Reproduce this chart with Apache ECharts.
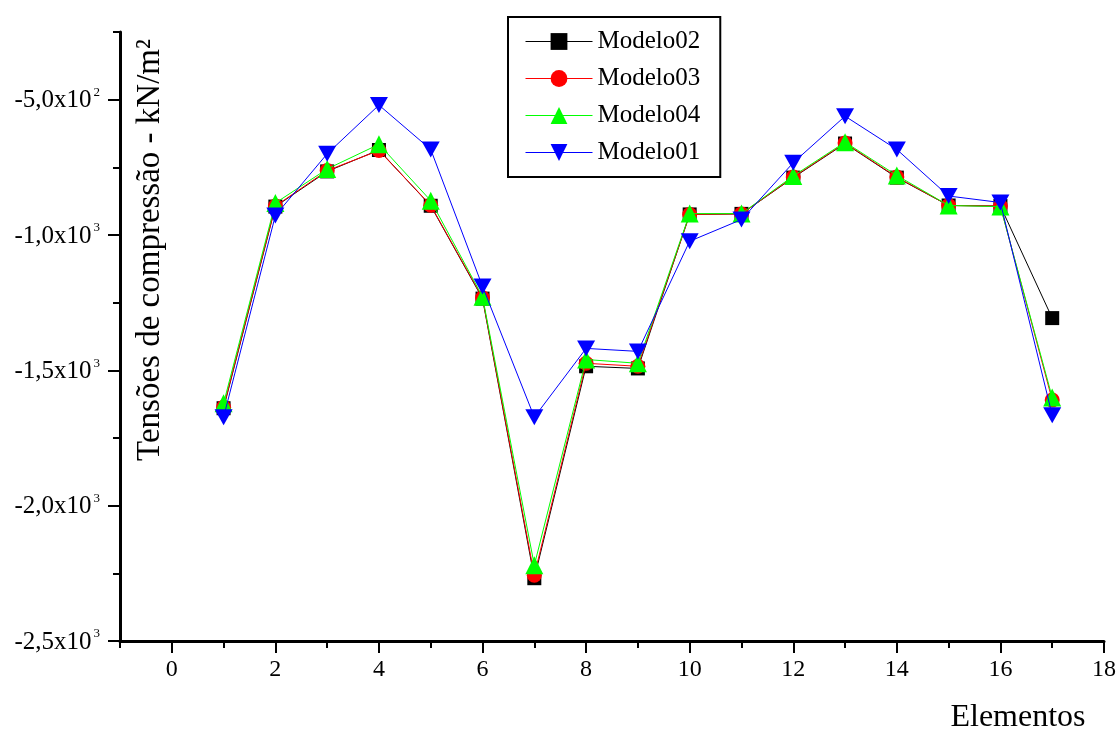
<!DOCTYPE html>
<html>
<head>
<meta charset="utf-8">
<script src="https://cdn.jsdelivr.net/npm/echarts@6/dist/echarts.min.js"></script>
<style>
html,body{margin:0;padding:0;background:#fff;}
#c{width:1119px;height:738px;}
</style>
</head>
<body>
<div id="c"></div>
<script>
// ---- data ----
const elements = [1,2,3,4,5,6,7,8,9,10,11,12,13,14,15,16,17];
const modelo02 = [-1640,-895,-765,-686,-892,-1235,-2268,-1485,-1493,-924,-922,-788,-662,-788,-891,-893,-1307];
const modelo03 = [-1636,-893,-762,-688,-890,-1232,-2257,-1474,-1485,-924,-922,-786,-660,-786,-891,-893,-1610];
const modelo04 = [-1622,-882,-756,-665,-873,-1228,-2220,-1460,-1474,-921,-921,-782,-657,-780,-891,-895,-1600];
const modelo01 = [-1673,-928,-700,-520,-684,-1190,-1673,-1419,-1430,-1023,-943,-733,-561,-684,-856,-880,-1666];
const seriesNames = ['Modelo02','Modelo03','Modelo04','Modelo01'];
const xTickValues = [0,2,4,6,8,10,12,14,16,18];
const yTickValues = [-2500,-2000,-1500,-1000,-500];
const yTickMantissa = ['-2,5x10','-2,0x10','-1,5x10','-1,0x10','-5,0x10'];
const yTickExp = ['3','3','3','3','2'];
const yTitle = 'Tensões de compressão - kN/m²';
const xTitle = 'Elementos';

// ---- chart ----
const FONT = '"Liberation Serif", "Times New Roman", serif';
const chart = echarts.init(document.getElementById('c'), null, {renderer:'canvas'});
function pairs(vals){ return elements.map((e,i)=>[e, vals[i]]); }
const styles = [
  {color:'#000000', symbol:'rect', size:14},
  {color:'#ff0000', symbol:'circle', size:15},
  {color:'#00ff00', symbol:'triangle', size:18},
  {color:'#0000ff', symbol:'path://M0,0 L10,0 L5,9 Z', size:[18,16]}
];
const valuesList = [modelo02, modelo03, modelo04, modelo01];
const series = seriesNames.map((n,i)=>({
  name:n, type:'line', xAxisIndex:0, yAxisIndex:0,
  data:pairs(valuesList[i]),
  symbol:styles[i].symbol, symbolSize:styles[i].size,
  showAllSymbol:true,
  itemStyle:{color:styles[i].color},
  lineStyle:{color:styles[i].color, width:1},
  animation:false, z: 2+i
}));

const option = {
  animation:false,
  backgroundColor:'#ffffff',
  grid:{left:120, right:15, top:32, bottom:97},
  legend:{
    orient:'vertical', left:508, top:17,
    data:seriesNames,
    borderColor:'#000', borderWidth:2, backgroundColor:'#fff',
    padding:[12,20,12,17], itemGap:12,
    itemWidth:67, itemHeight:21,
    lineStyle:{width:1},
    textStyle:{fontFamily:FONT, fontSize:25, color:'#000'}
  },
  xAxis:[
    {type:'value', min:-1, max:18, interval:1, position:'bottom',
     axisLine:{show:true, onZero:false, lineStyle:{color:'#000', width:3}},
     axisTick:{show:true, inside:false, length:7, lineStyle:{color:'#000', width:2}},
     axisLabel:{show:false}, splitLine:{show:false}},
    {type:'value', min:-1, max:18, position:'bottom',
     axisLine:{show:false, onZero:false},
     axisTick:{show:true, length:12, customValues:xTickValues, lineStyle:{color:'#000', width:2}},
     axisLabel:{show:true, customValues:xTickValues, margin:17, fontFamily:FONT, fontSize:24, color:'#000'},
     splitLine:{show:false}}
  ],
  yAxis:[
    {type:'value', min:-2500, max:-250, interval:250, position:'left',
     axisLine:{show:true, onZero:false, lineStyle:{color:'#000', width:3}},
     axisTick:{show:true, length:7, lineStyle:{color:'#000', width:2}},
     axisLabel:{show:false}, splitLine:{show:false}},
    {type:'value', min:-2500, max:-250, position:'left',
     axisLine:{show:false, onZero:false},
     axisTick:{show:true, length:12, customValues:yTickValues, lineStyle:{color:'#000', width:2}},
     axisLabel:{show:true, customValues:yTickValues, margin:20, color:'#000',
       formatter:function(v){
         const i = yTickValues.indexOf(v);
         if(i<0) return '';
         return '{m|'+yTickMantissa[i]+'}{e|'+yTickExp[i]+'}';
       },
       rich:{
         m:{fontFamily:FONT, fontSize:25, color:'#000', verticalAlign:'bottom', lineHeight:27},
         e:{fontFamily:FONT, fontSize:13, color:'#000', verticalAlign:'top', lineHeight:27, padding:[0,0,14,2]}
       }},
     splitLine:{show:false}}
  ],
  graphic:[
    {type:'text', x:150, y:250, rotation:Math.PI/2,
     style:{text:yTitle, font:'33px '+FONT, fill:'#000', textAlign:'center', textVerticalAlign:'middle'}},
    {type:'text', x:1018, y:718,
     style:{text:xTitle, font:'32px '+FONT, fill:'#000', textAlign:'center', textVerticalAlign:'middle'}}
  ],
  series:series
};
chart.setOption(option);
</script>
</body>
</html>
